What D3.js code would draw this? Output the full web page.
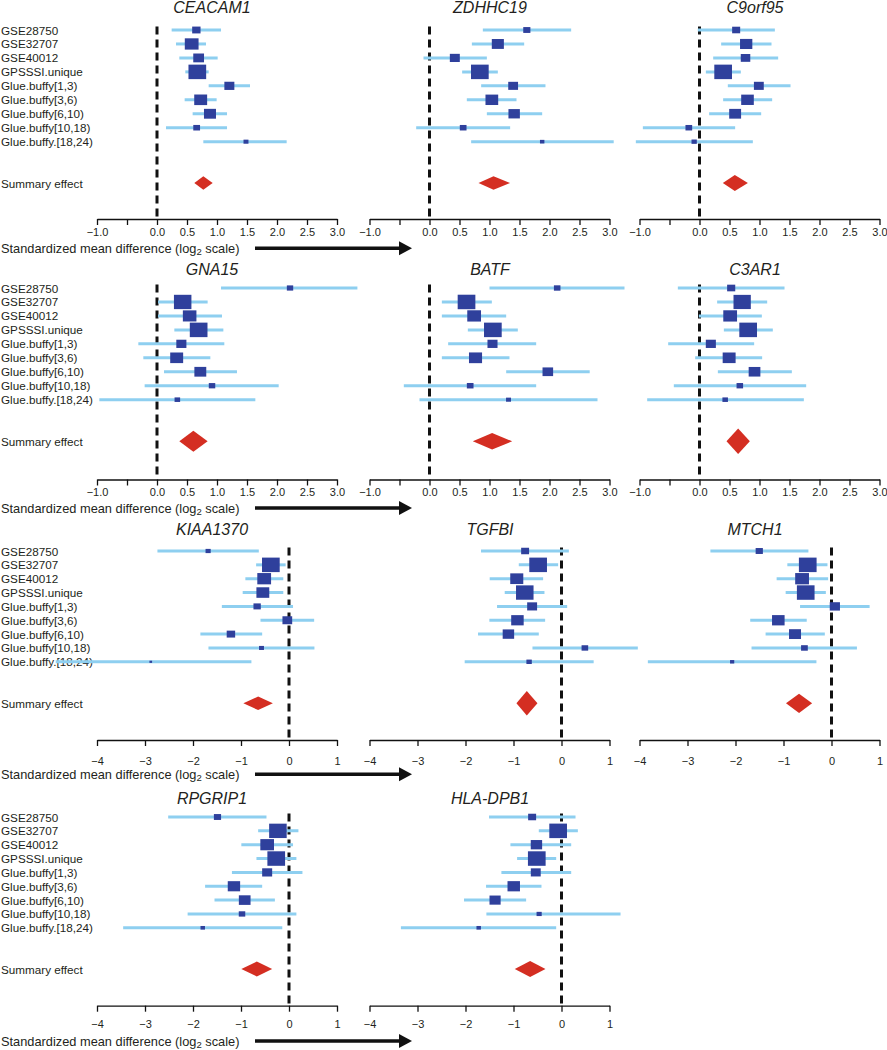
<!DOCTYPE html>
<meta charset="utf-8">
<style>
body { margin: 0; background: #fff; }
svg text { font-family: "Liberation Sans", Arial, sans-serif; fill: #231f20; }
.title { font-size: 16px; font-style: italic; text-anchor: middle; }
.study { font-size: 11.7px; }
.xlab { font-size: 12.8px; }
.tick text { font-size: 11px; }
</style>
<body>
<svg id="chart" width="887" height="1050"></svg>
<script src="https://d3js.org/d3.v7.min.js"></script>
<script>

// studies (rows) and genes (panels)
var studies = ["GSE28750", "GSE32707", "GSE40012", "GPSSSI.unique",
  "Glue.buffy[1,3)", "Glue.buffy[3,6)", "Glue.buffy[6,10)",
  "Glue.buffy[10,18)", "Glue.buffy.[18,24)"];
var genes = ["CEACAM1", "ZDHHC19", "C9orf95", "GNA15", "BATF", "C3AR1",
  "KIAA1370", "TGFBI", "MTCH1", "RPGRIP1", "HLA-DPB1"];

// effect sizes per gene (one value per study)
var effect = [
  [0.656, 0.578, 0.694, 0.672, 1.206, 0.728, 0.883, 0.661, 1.483],
  [1.622, 1.139, 0.422, 0.839, 1.394, 1.039, 1.411, 0.561, 1.878],
  [0.611, 0.778, 0.767, 0.394, 0.989, 0.8, 0.594, -0.178, -0.089],
  [2.217, 0.428, 0.544, 0.694, 0.406, 0.328, 0.722, 0.917, 0.339],
  [2.128, 0.617, 0.744, 1.056, 1.05, 0.767, 1.972, 0.678, 1.317],
  [0.528, 0.711, 0.511, 0.811, 0.189, 0.494, 0.917, 0.672, 0.428],
  [-1.685, -0.378, -0.517, -0.545, -0.664, -0.035, -1.21, -0.573, -2.88],
  [-0.758, -0.487, -0.932, -0.765, -0.612, -0.918, -1.106, 0.487, -0.675],
  [-1.505, -0.495, -0.613, -0.537, 0.07, -1.108, -0.76, -0.564, -2.07],
  [-1.49, -0.231, -0.455, -0.266, -0.455, -1.147, -0.923, -0.979, -1.797],
  [-0.612, -0.07, -0.522, -0.515, -0.536, -0.995, -1.384, -0.466, -1.725]
];
var ciLow = [
  [0.244, 0.317, 0.372, 0.472, 0.861, 0.461, 0.594, 0.15, 0.772],
  [0.889, 0.706, -0.1, 0.544, 0.861, 0.622, 0.956, -0.222, 0.694],
  [-0.028, 0.361, 0.228, 0.106, 0.472, 0.394, 0.161, -0.944, -1.061],
  [1.067, 0.017, 0.017, 0.289, -0.311, -0.228, 0.117, -0.206, -0.961],
  [1.0, 0.206, 0.206, 0.639, 0.311, 0.206, 1.278, -0.428, -0.167],
  [-0.361, 0.294, -0.011, 0.406, -0.522, -0.072, 0.306, -0.428, -0.872],
  [-2.741, -0.685, -0.909, -0.965, -1.399, -0.594, -1.846, -1.678, -4.86],
  [-1.677, -0.89, -1.496, -1.183, -1.343, -1.503, -1.739, -0.605, -2.017],
  [-2.523, -0.92, -1.143, -0.955, -0.655, -1.693, -1.373, -1.666, -3.826],
  [-2.517, -0.643, -0.993, -0.678, -1.189, -1.748, -1.552, -2.112, -3.455],
  [-1.51, -0.473, -1.064, -0.925, -1.252, -1.572, -2.031, -1.565, -3.346]
];
var ciHigh = [
  [1.067, 0.817, 1.011, 0.861, 1.55, 0.994, 1.167, 1.167, 2.161],
  [2.361, 1.578, 0.956, 1.139, 1.933, 1.45, 1.878, 1.344, 3.07],
  [1.256, 1.2, 1.311, 0.689, 1.517, 1.211, 1.028, 0.594, 0.889],
  [3.34, 0.844, 1.083, 1.106, 1.122, 0.889, 1.333, 2.028, 1.639],
  [3.25, 1.039, 1.278, 1.472, 1.778, 1.333, 2.67, 1.778, 2.8],
  [1.417, 1.128, 1.039, 1.222, 0.911, 1.044, 1.539, 1.778, 1.739],
  [-0.629, -0.07, -0.119, -0.119, 0.084, 0.524, -0.559, 0.53, -0.783],
  [0.153, -0.07, -0.383, -0.355, 0.118, -0.341, -0.473, 1.59, 0.67],
  [-0.481, -0.084, -0.07, -0.118, 0.794, -0.516, -0.139, 0.53, -0.314],
  [-0.469, 0.196, 0.084, 0.154, 0.28, -0.559, -0.294, 0.154, -0.14],
  [0.292, 0.341, 0.202, -0.111, 0.202, -0.417, -0.737, 1.23, -0.111]
];

// pooled (summary) effect per gene
var summaryEffect = [0.772, 1.067, 0.589, 0.606, 1.044, 0.644, -0.643, -0.723, -0.676, -0.671, -0.654];
var summaryLow = [0.622, 0.817, 0.389, 0.372, 0.722, 0.45, -0.951, -0.939, -0.948, -0.993, -0.974];
var summaryHigh = [0.928, 1.344, 0.806, 0.844, 1.378, 0.839, -0.336, -0.501, -0.404, -0.35, -0.334];
// relative weight of the pooled estimate (vs. the heaviest study)
var summaryWeight = [0.93, 0.93, 1.1, 1.45, 1.14, 1.75, 0.93, 1.68, 1.33, 1.02, 1.09];

// x axis domains and ticks for each row of panels
var rowDomain = [[-1, 3], [-1, 3], [-4, 1], [-4, 1]];
var ticksWide = [-1, -0.5, 0, 0.5, 1, 1.5, 2, 2.5, 3];
var ticksNeg = [-4, -3, -2, -1, 0, 1];

// layout
var panelLeft = [97, 369.5, 639.5], panelWidth = 240;
var titleX = [212, 490, 755];
var rows = [
  { title: 7,   first: 30,  step: 13.96, summary: 183,   axis: 219,   pad: 3,  xlab: 248.3 },
  { title: 269, first: 288, step: 13.96, summary: 441.3, axis: 479.5, pad: 3,  xlab: 508 },
  { title: 529.5, first: 551, step: 13.85, summary: 703.3, axis: 740, pad: 11, xlab: 774.3 },
  { title: 798, first: 817, step: 13.85, summary: 969,   axis: 1005.7, pad: 9, xlab: 1041 }
];
var maxBox = 14.5, boxAspect = 1.22;
var ciColor = "#8ecff0", boxColor = "#2f409c", diamondColor = "#d42e22";

var svg = d3.select("#chart");

genes.forEach(function(gene, g) {
  var r = Math.floor(g / 3), c = g % 3, L = rows[r];
  var x = d3.scaleLinear().domain(rowDomain[r]).range([panelLeft[c], panelLeft[c] + panelWidth]);
  var y = function(i) { return L.first + i * L.step; };
  var panel = svg.append("g");

  // row labels only in the first column (drawn first, the CI lines go over them)
  if (c === 0) {
    panel.selectAll(".study").data(studies).enter().append("text")
      .attr("class", "study")
      .attr("x", 1).attr("y", function(d, i) { return y(i); })
      .attr("dominant-baseline", "central")
      .text(function(d) { return d; });
    panel.append("text").attr("class", "study")
      .attr("x", 1).attr("y", L.summary)
      .attr("dominant-baseline", "central")
      .text("Summary effect");

    var xl = panel.append("text").attr("class", "xlab")
      .attr("x", 1).attr("y", L.xlab)
      .attr("dominant-baseline", "central");
    xl.append("tspan").text("Standardized mean difference (log");
    xl.append("tspan").attr("baseline-shift", "-30%").style("font-size", "9.5px").text("2");
    xl.append("tspan").text(" scale)");

    // arrow
    panel.append("line")
      .attr("x1", 255).attr("x2", 402)
      .attr("y1", L.xlab).attr("y2", L.xlab)
      .attr("stroke", "#111").attr("stroke-width", 3.5);
    panel.append("polygon")
      .attr("points", [[399, L.xlab - 7], [412, L.xlab], [399, L.xlab + 7]]
        .map(function(p) { return p.join(","); }).join(" "))
      .attr("fill", "#111");
  }

  // zero line
  panel.append("line")
    .attr("x1", x(0)).attr("x2", x(0))
    .attr("y1", L.first - 3.5).attr("y2", L.axis)
    .attr("stroke", "#111").attr("stroke-width", 3)
    .attr("stroke-dasharray", "8,5");

  var rowsData = studies.map(function(s, i) {
    return { est: effect[g][i], lo: ciLow[g][i], hi: ciHigh[g][i], i: i };
  });
  var minW = d3.min(rowsData, function(d) { return d.hi - d.lo; });
  var side = function(d) { return maxBox * minW / (d.hi - d.lo); };

  // confidence intervals
  panel.selectAll(".ci").data(rowsData).enter().append("line")
    .attr("x1", function(d) { return x(d.lo); })
    .attr("x2", function(d) { return x(d.hi); })
    .attr("y1", function(d) { return y(d.i); })
    .attr("y2", function(d) { return y(d.i); })
    .attr("stroke", ciColor).attr("stroke-width", 3);

  // boxes sized by precision
  panel.selectAll(".box").data(rowsData).enter().append("rect")
    .attr("width", function(d) { return side(d) * boxAspect; })
    .attr("height", side)
    .attr("x", function(d) { return x(d.est) - side(d) * boxAspect / 2; })
    .attr("y", function(d) { return y(d.i) - side(d) / 2; })
    .attr("fill", boxColor);

  // summary diamond
  var h = maxBox * summaryWeight[g] / 2;
  panel.append("polygon")
    .attr("points", [
      [x(summaryLow[g]), L.summary],
      [x(summaryEffect[g]), L.summary - h],
      [x(summaryHigh[g]), L.summary],
      [x(summaryEffect[g]), L.summary + h]
    ].map(function(p) { return p.join(","); }).join(" "))
    .attr("fill", diamondColor);

  // axis
  var wide = r < 2;
  var axis = d3.axisBottom(x)
    .tickValues(wide ? ticksWide : ticksNeg)
    .tickSize(6).tickSizeOuter(0).tickPadding(L.pad)
    .tickFormat(function(d) {
      if (wide) return d === -0.5 ? "" : d3.format(".1f")(d);
      return d3.format("d")(d);
    });
  var ax = panel.append("g")
    .attr("transform", "translate(0," + L.axis + ")")
    .call(axis);
  ax.select(".domain").attr("stroke", "#111").attr("stroke-width", 1.3);
  ax.selectAll(".tick line").attr("stroke", "#111").attr("stroke-width", 1.3);
  ax.selectAll(".tick text").attr("fill", "#231f20").style("font-family", "Liberation Sans, Arial, sans-serif");

  // gene title
  panel.append("text").attr("class", "title")
    .attr("x", titleX[c]).attr("y", L.title)
    .attr("dominant-baseline", "central")
    .text(gene);
});

</script>
</body>
